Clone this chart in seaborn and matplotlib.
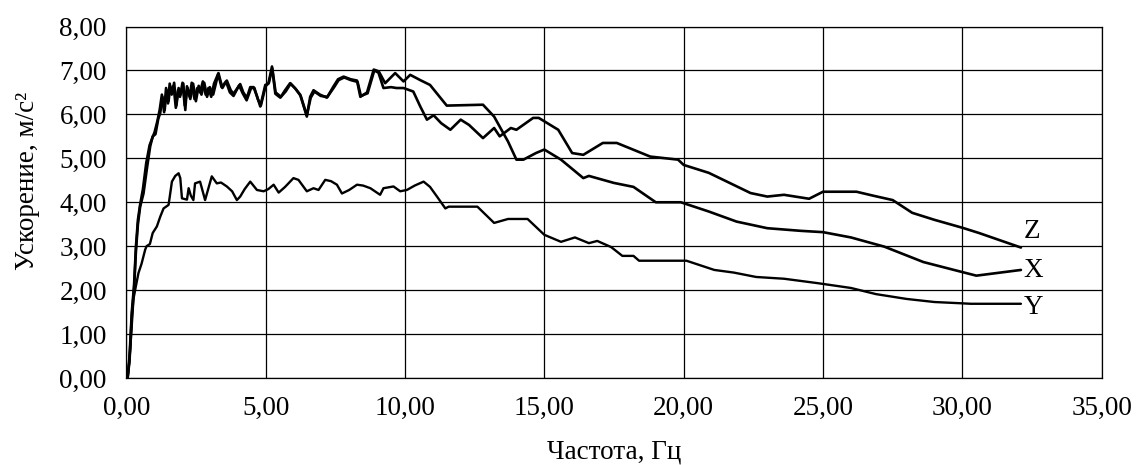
import matplotlib
matplotlib.use("Agg")
import matplotlib.pyplot as plt
import seaborn as sns
import pandas as pd
from matplotlib.ticker import FuncFormatter

# ---- data ----
z_freq = [0.05, 0.12, 0.2, 0.28, 0.35, 0.42, 0.5, 0.6, 0.72, 0.84, 0.93, 1.02, 1.12, 1.2,
          1.28, 1.36, 1.43, 1.5, 1.56, 1.63, 1.7, 1.78, 1.86, 1.93, 2.02, 2.1, 2.2, 2.3,
          2.4, 2.5, 2.6, 2.7, 2.8, 2.9, 3.0, 3.12, 3.3, 3.42, 3.58, 3.72, 3.85, 4.05,
          4.18, 4.32, 4.48, 4.6, 4.72, 4.83, 5.0, 5.12, 5.24, 5.36, 5.55, 5.72, 5.9,
          6.08, 6.26, 6.48, 6.62, 6.75, 6.98, 7.22, 7.46, 7.62, 7.82, 8.06, 8.3, 8.42,
          8.66, 8.9, 9.05, 9.23, 9.5, 9.7, 9.95, 10.3, 10.55, 10.79, 11.03, 11.3, 11.63,
          12.0, 12.3, 12.8, 13.2, 13.4, 13.8, 14.0, 14.6, 14.8, 15.5, 16.0, 16.4, 17.1,
          17.6, 18.8, 19.8, 20.0, 20.9, 22.4, 23.0, 23.6, 24.5, 25.0, 26.2, 26.8, 27.5,
          28.2, 29.0, 30.0, 30.6, 32.1]
z_acc = [0.0, 0.5, 1.5, 2.1, 3.0, 3.6, 3.95, 4.3, 4.9, 5.3, 5.45, 5.6, 5.85, 6.1,
         6.45, 6.05, 6.6, 6.25, 6.7, 6.45, 6.65, 6.15, 6.55, 6.4, 6.72, 6.2, 6.6, 6.35,
         6.7, 6.3, 6.65, 6.45, 6.72, 6.4, 6.62, 6.45, 6.92, 6.62, 6.75, 6.5, 6.42, 6.66,
         6.48, 6.32, 6.6, 6.6, 6.35, 6.2, 6.64, 6.72, 7.05, 6.5, 6.4, 6.52, 6.7,
         6.58, 6.42, 5.98, 6.38, 6.52, 6.42, 6.4, 6.62, 6.78, 6.84, 6.78, 6.74, 6.42,
         6.48, 7.0, 6.95, 6.6, 6.62, 6.6, 6.6, 6.52, 6.18, 5.88, 5.98, 5.8, 5.65,
         5.88, 5.76, 5.46, 5.69, 5.5, 5.69, 5.65, 5.92, 5.92, 5.65, 5.12, 5.08, 5.35,
         5.35, 5.04, 4.97, 4.85, 4.67, 4.21, 4.13, 4.17, 4.08, 4.24, 4.24, 4.15, 4.05,
         3.76, 3.6, 3.42, 3.3, 2.97]

x_freq = [0.05, 0.12, 0.2, 0.28, 0.35, 0.42, 0.5, 0.62, 0.75, 0.86, 0.95, 1.05, 1.15,
          1.22, 1.3, 1.38, 1.45, 1.52, 1.58, 1.65, 1.72, 1.8, 1.88, 1.95, 2.05, 2.12,
          2.18, 2.28, 2.35, 2.45, 2.55, 2.65, 2.75, 2.85, 2.95, 3.05, 3.15, 3.31, 3.45,
          3.61, 3.75, 3.85, 4.09, 4.2, 4.33, 4.45, 4.57, 4.7, 4.81, 4.99, 5.1, 5.23,
          5.35, 5.53, 5.7, 5.88, 6.05, 6.24, 6.48, 6.6, 6.72, 6.95, 7.2, 7.44, 7.6,
          7.8, 8.05, 8.28, 8.4, 8.64, 8.88, 9.06, 9.29, 9.65, 9.95, 10.19, 10.55, 10.9,
          11.5, 12.8, 13.2, 13.7, 14.0, 14.25, 14.7, 15.0, 15.6, 16.4, 16.6, 17.5, 18.2,
          19.0, 19.9, 20.9, 21.9, 23.0, 24.2, 25.0, 26.0, 27.2, 28.6, 29.7, 30.5, 32.1]
x_acc = [0.0, 0.4, 1.4, 2.0, 2.9, 3.5, 3.9, 4.2, 4.8, 5.27, 5.5, 5.55, 5.9,
         6.03, 6.4, 6.1, 6.55, 6.3, 6.64, 6.5, 6.72, 6.2, 6.6, 6.45, 6.7, 6.1,
         6.64, 6.4, 6.72, 6.35, 6.6, 6.5, 6.75, 6.45, 6.6, 6.4, 6.7, 6.94, 6.6,
         6.77, 6.55, 6.47, 6.69, 6.5, 6.38, 6.62, 6.62, 6.4, 6.18, 6.67, 6.7, 7.09,
         6.47, 6.38, 6.55, 6.71, 6.6, 6.45, 5.95, 6.4, 6.55, 6.45, 6.38, 6.64, 6.8,
         6.86, 6.8, 6.77, 6.4, 6.5, 7.02, 6.98, 6.71, 6.94, 6.75, 6.9, 6.78, 6.67,
         6.2, 6.22, 5.95, 5.38, 4.97, 4.97, 5.12, 5.2, 4.97, 4.55, 4.6, 4.44, 4.35,
         4.0, 4.0, 3.79, 3.56, 3.41, 3.35, 3.32, 3.2, 2.99, 2.64, 2.46, 2.33, 2.46]

y_freq = [0.05, 0.1, 0.15, 0.2, 0.26, 0.35, 0.44, 0.55, 0.68, 0.73, 0.85, 0.95, 1.1,
          1.22, 1.34, 1.52, 1.64, 1.76, 1.88, 1.94, 2.0, 2.18, 2.24, 2.32, 2.41, 2.47,
          2.65, 2.83, 3.07, 3.25, 3.4, 3.61, 3.8, 3.97, 4.09, 4.25, 4.45, 4.69, 4.93,
          5.1, 5.29, 5.47, 5.7, 6.0, 6.18, 6.48, 6.72, 6.9, 7.14, 7.35, 7.56, 7.74,
          8.0, 8.28, 8.5, 8.76, 9.11, 9.23, 9.59, 9.83, 10.07, 10.35, 10.67, 10.9,
          11.15, 11.45, 11.57, 12.6, 13.2, 13.7, 14.4, 15.0, 15.6, 16.1, 16.6, 16.9,
          17.4, 17.8, 18.2, 18.4, 20.1, 21.1, 21.8, 22.6, 23.6, 24.8, 26.0, 26.9, 28.0,
          29.0, 30.0, 30.3, 32.1]
y_acc = [0.0, 0.3, 0.7, 1.2, 1.8, 2.1, 2.39, 2.6, 2.92, 3.0, 3.05, 3.3, 3.45,
         3.67, 3.86, 3.94, 4.47, 4.6, 4.66, 4.55, 4.09, 4.06, 4.32, 4.15, 4.05, 4.43,
         4.47, 4.05, 4.59, 4.43, 4.45, 4.36, 4.25, 4.05, 4.13, 4.3, 4.47, 4.28, 4.25,
         4.3, 4.4, 4.22, 4.35, 4.55, 4.51, 4.25, 4.32, 4.28, 4.51, 4.48, 4.4, 4.2,
         4.28, 4.4, 4.38, 4.32, 4.17, 4.32, 4.36, 4.25, 4.28, 4.38, 4.47, 4.35,
         4.13, 3.86, 3.9, 3.9, 3.53, 3.62, 3.62, 3.26, 3.1, 3.2, 3.07, 3.12,
         2.98, 2.78, 2.78, 2.67, 2.67, 2.46, 2.4, 2.3, 2.26, 2.16, 2.05, 1.91, 1.8,
         1.73, 1.70, 1.69, 1.69]

series_names = ["Z", "X", "Y"]
x_ticks = [0, 5, 10, 15, 20, 25, 30, 35]
y_ticks = [0, 1, 2, 3, 4, 5, 6, 7, 8]
x_label = "Частота, Гц"
y_label = "Ускорение, м/с²"

# ---- build table ----
frames = []
for name, f, a in zip(series_names, [z_freq, x_freq, y_freq], [z_acc, x_acc, y_acc]):
    frames.append(pd.DataFrame({"freq": f, "acc": a, "axis": name}))
df = pd.concat(frames, ignore_index=True)

sns.set_style("white")
plt.rcParams["font.family"] = ["Liberation Serif", "DejaVu Serif"]

fig, ax = plt.subplots(figsize=(11.37, 4.65), dpi=100)
fig.subplots_adjust(left=0.111, right=0.969, top=0.943, bottom=0.187)

FS = 19.5
widths = {"Z": 1.9, "X": 1.9, "Y": 1.7}
label_dy = {"Z": 0.36, "X": -0.02, "Y": -0.08}   # end-label offsets (style)
for name in series_names:
    sub = df[df["axis"] == name]
    sns.lineplot(data=sub, x="freq", y="acc", ax=ax, color="black",
                 linewidth=widths[name], estimator=None, sort=False, legend=False)
    last = sub.iloc[-1]
    ax.text(last["freq"] + 0.1, last["acc"] + label_dy[name], name, fontsize=FS,
            ha="left", va="center", color="black")

ax.set_xlim(0, 35)
ax.set_ylim(0, 8)
ax.set_xticks(x_ticks)
ax.set_yticks(y_ticks)
fmt = FuncFormatter(lambda v, p: f"{v:.2f}".replace(".", ","))
ax.xaxis.set_major_formatter(fmt)
ax.yaxis.set_major_formatter(fmt)
ax.grid(True, color="black", linewidth=0.9)
ax.set_axisbelow(True)
for s in ax.spines.values():
    s.set_visible(True)
    s.set_color("black")
    s.set_linewidth(0.9)
ax.tick_params(axis="x", which="major", direction="out", length=7,
               width=0.8, color="black", labelsize=FS, labelcolor="black", pad=6)
ax.tick_params(axis="y", which="major", direction="out", length=10,
               width=0.8, color="black", labelsize=FS, labelcolor="black", pad=4)
ax.set_xlabel(x_label, fontsize=FS, color="black", va="top")
ax.set_ylabel(y_label, fontsize=FS, color="black")
ax.xaxis.set_label_coords(0.5, -0.175)
ax.yaxis.set_label_coords(-0.088, 0.56)

fig.savefig("out.png", dpi=100)
